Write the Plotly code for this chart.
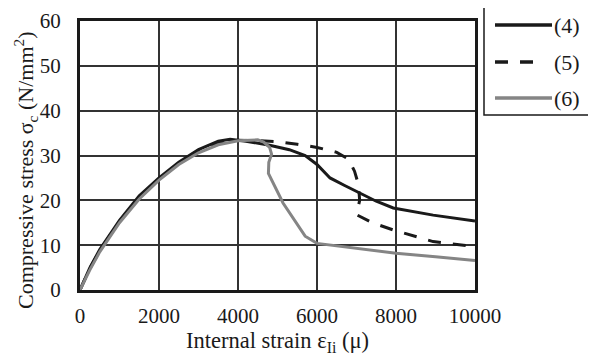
import plotly.graph_objects as go

# Series (4)
x4 = [0, 250, 500, 1000, 1500, 2000, 2500, 3000, 3500, 3800, 4200, 4800, 5300, 5700, 6000, 6330, 6700, 7090, 7500, 7930, 8940, 10000]
y4 = [0, 5, 9, 15.5, 21, 25, 28.5, 31.3, 33.2, 33.6, 33.2, 32.3, 31.3, 30.0, 28.0, 25.0, 23.3, 21.6, 19.8, 18.3, 16.7, 15.4]
# Series (5)
x5 = [0, 250, 500, 1000, 1500, 2000, 2500, 3000, 3500, 4000, 4500, 5000, 5500, 6000, 6500, 6800, 6950, 7050, 7080, 7000, 7400, 7930, 8940, 10000]
y5 = [0, 4.8, 8.8, 15.3, 20.7, 24.8, 28.3, 31.1, 32.9, 33.4, 33.3, 33.1, 32.5, 31.8, 30.7, 29.2, 26.5, 23.5, 20.0, 16.8, 15.0, 13.4, 10.8, 9.7]
# Series (6)
x6 = [0, 250, 500, 1000, 1500, 2000, 2500, 3000, 3500, 4000, 4500, 4650, 4800, 4850, 4780, 4770, 5140, 5570, 5700, 6000, 7000, 8000, 9000, 10000]
y6 = [0, 4.5, 8.5, 15.0, 20.3, 24.5, 28.0, 30.6, 32.4, 33.3, 33.5, 33.0, 31.8, 30.3, 28.5, 26.0, 19.4, 13.8, 12.0, 10.4, 9.3, 8.2, 7.4, 6.6]

names = ["(4)", "(5)", "(6)"]
x_ticks = [0, 2000, 4000, 6000, 8000, 10000]
x_ticktext = ["0", "2000", "4000", "6000", "8000", "10000"]
y_ticks = [0, 10, 20, 30, 40, 50, 60]
x_title = "Internal strain ε<sub>Ii</sub> (μ)"
y_title = "Compressive stress σ<sub>c</sub> (N/mm<sup>2</sup>)"

FONT = "Liberation Serif"
black = "#1a1a1a"
gray = "#858585"
colors = [black, black, gray]
dashes = ["solid", "13px,12px", "solid"]

# The page body has an 8px default margin, so the figure is drawn 8px smaller
OFF = 8
FW, FH = 596 - OFF, 358 - OFF
# plot area in figure pixels
L, T, W, H = 80 - OFF, 21 - OFF, 395, 269

fig = go.Figure()
for xs, ys, nm, c, d in zip([x4, x5, x6], [y4, y5, y6], names, colors, dashes):
    fig.add_trace(go.Scatter(x=xs, y=ys, mode="lines", name=nm, showlegend=False,
                             line=dict(color=c, width=3, dash=d)))

# Custom legend box (positions given in screen pixels, converted to paper coords)
px = lambda p: (p - OFF - L) / W
py = lambda p: (T + H - (p - OFF)) / H
fig.add_shape(type="rect", xref="paper", yref="paper",
              x0=px(484), x1=px(593), y0=py(115), y1=py(7),
              line=dict(color=black, width=1.5), fillcolor="white", layer="above")
entry_y = [25, 62, 98]
line_end = [552, 538, 552]
for nm, c, d, ey, le in zip(names, colors, dashes, entry_y, line_end):
    fig.add_shape(type="line", xref="paper", yref="paper",
                  x0=px(495), x1=px(le), y0=py(ey), y1=py(ey),
                  line=dict(color=c, width=3.5, dash=d), layer="above")
    fig.add_annotation(xref="paper", yref="paper", x=px(552), y=py(ey),
                       xanchor="left", yanchor="middle", text=nm, showarrow=False,
                       font=dict(size=22, family=FONT, color=black))

# Y axis title (rotated)
fig.add_annotation(xref="paper", yref="paper", x=px(25), y=py(170),
                   xanchor="center", yanchor="middle", textangle=-90,
                   text=y_title, showarrow=False,
                   font=dict(size=22, family=FONT, color=black))

fig.update_layout(
    width=FW, height=FH,
    margin=dict(l=L, r=FW - L - W, t=T, b=FH - T - H, autoexpand=False),
    paper_bgcolor="white", plot_bgcolor="white",
    font=dict(family=FONT, size=21, color=black),
    showlegend=False,
    xaxis=dict(range=[0, 10000], tickvals=x_ticks, ticktext=x_ticktext, ticks="",
               showgrid=True, gridcolor="#333333", gridwidth=1.5, showline=True,
               linecolor=black, linewidth=3, mirror=True, zeroline=False,
               ticklabelstandoff=5, automargin=False,
               tickfont=dict(family=FONT, size=21),
               title=dict(text=x_title, font=dict(family=FONT, size=22.5), standoff=5)),
    yaxis=dict(range=[0, 60], tickvals=y_ticks, ticks="", showgrid=True,
               gridcolor="#333333", gridwidth=1.5, showline=True, linecolor=black,
               linewidth=3, mirror=True, zeroline=False, ticklabelstandoff=12,
               automargin=False,
               tickfont=dict(family=FONT, size=21)),
)

fig.write_html("out.html")
